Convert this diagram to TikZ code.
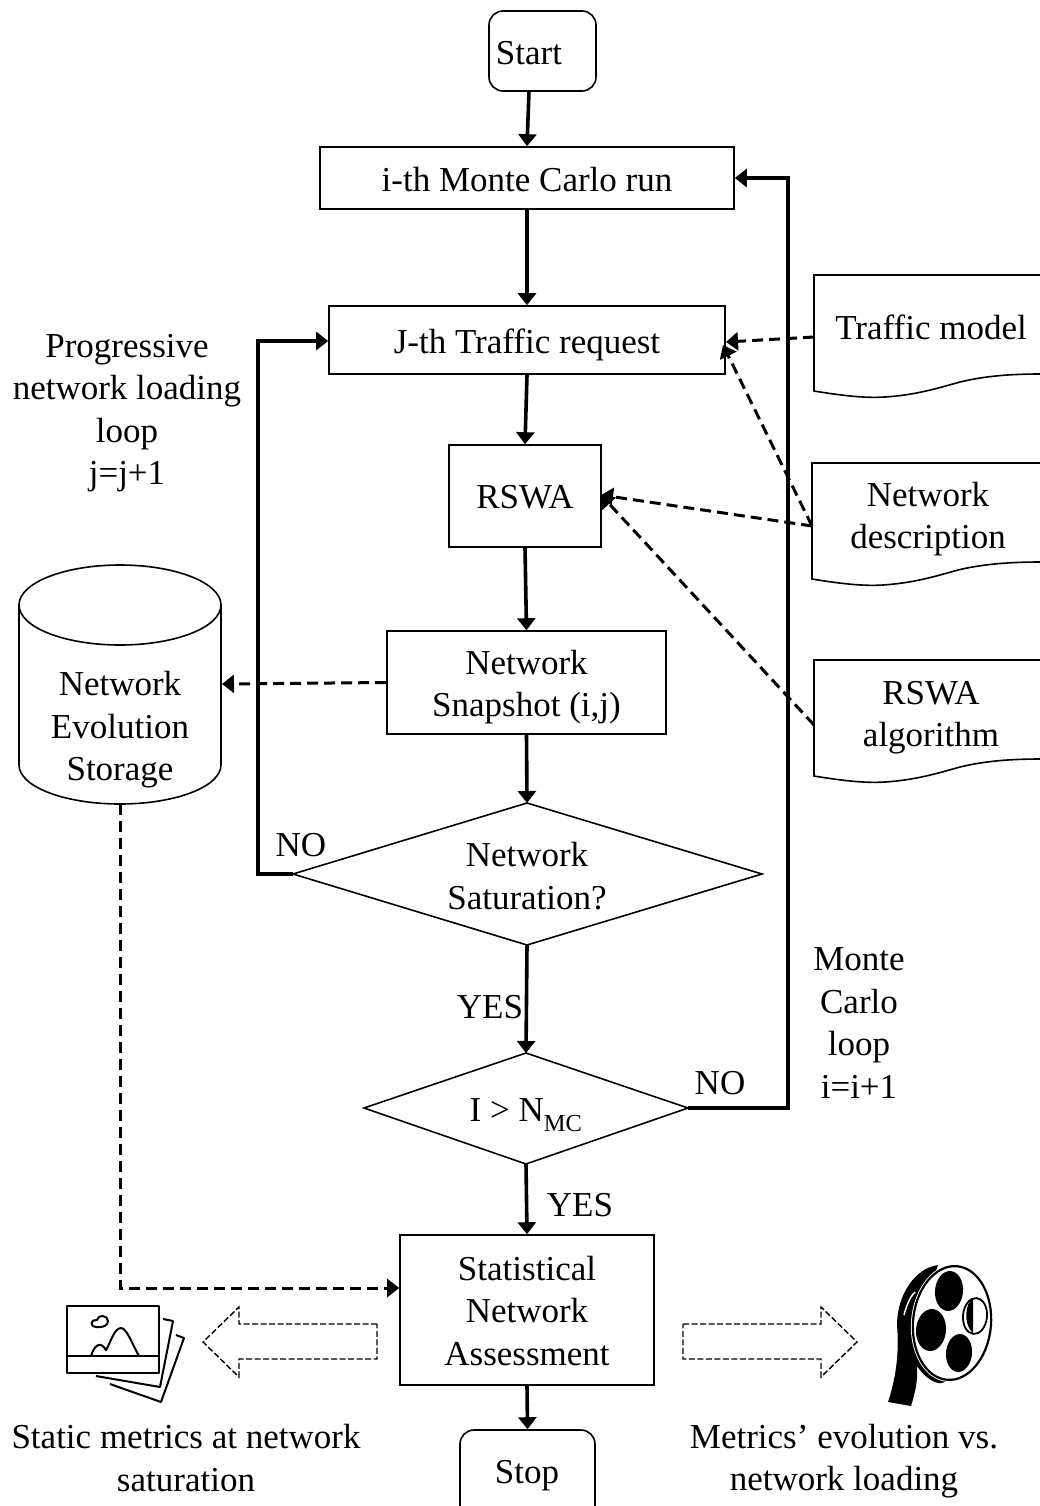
\documentclass[tikz,border=0pt]{standalone}
\usepackage{fontspec}
\setmainfont{Liberation Serif}
\usetikzlibrary{arrows.meta,shapes.geometric}
\tikzset{
 x=1pt,y=-1pt,
 every node/.style={font=\fontsize{35}{42.5}\selectfont,align=center,inner sep=0pt},
 boxn/.style={draw=black,line width=1.6pt,rectangle,minimum width=#1},
 rnd/.style={draw=black,line width=1.6pt,rectangle,rounded corners=14pt},
 flow/.style={line width=3.6pt,-{Triangle[length=12pt,width=18pt]}},
 dflow/.style={line width=3pt,dash pattern=on 11pt off 6pt,-{Triangle[length=12pt,width=18pt]}},
 doc/.style={draw=black,line width=1.6pt},
 block/.style={draw=black,line width=1.4pt,dash pattern=on 6pt off 2.5pt,fill=white},
 icon/.style={draw=black,line width=2pt,line join=round}
}
\begin{document}
\begin{tikzpicture}
\useasboundingbox (0,0) rectangle (1040,1506);
\fill[white] (0,0) rectangle (1040,1506);
% process nodes
\node[rnd,minimum width=107pt,minimum height=80pt] (start) at (542.5,51) {};
\node (starttxt) at (529,53) {Start};
\node[boxn=414pt,minimum height=62pt] (mc) at (527,178) {};
\node (mctxt) at (527,180) {i-th Monte Carlo run};
\node[boxn=396pt,minimum height=68pt] (req) at (527,340) {};
\node (reqtxt) at (527,345) {J-th Traffic request};
\node[boxn=152pt,minimum height=102pt] (rswa) at (525,496) {};
\node (rswatxt) at (525,497) {RSWA};
\node[boxn=279pt,minimum height=103pt] (snap) at (526.5,682.5) {};
\node (snaptxt) at (526.5,687) {Network\\Snapshot (i,j)};
\path[draw=black,line width=1.6pt] (293,874) coordinate (satw) -- (527,803) coordinate (satn) -- (762,874) -- (527,945) coordinate (sats) -- cycle;
\node (sattxt) at (527,876) {Network\\Saturation?};
\path[draw=black,line width=1.6pt] (364,1108) -- (526,1053) coordinate (mcdn) -- (688,1108) coordinate (mcde) -- (526,1164) coordinate (mcds) -- cycle;
\node (mcdtxt) at (526,1115) {I > N\textsubscript{\raisebox{-0.5ex}{MC}}};
\node[boxn=254pt,minimum height=150pt] (stat) at (527,1310) {};
\node (stattxt) at (527,1311) {Statistical\\Network\\Assessment};
\node[rnd,minimum width=135pt,minimum height=90pt] (stop) at (527.5,1475) {};
\node (stoptxt) at (527,1476) {Stop};
% documents
\draw[doc] (1041,275) -- (814,275) -- (814,391) .. controls (850,397) and (870,398) .. (885,397) .. controls (915,395) and (935,389) .. (960,382) .. controls (985,376) and (1010,374) .. (1041,374);
\node (tm) at (931,327) {Traffic model};
\draw[doc] (1041,463) -- (812,463) -- (812,579) .. controls (848,585) and (868,586) .. (883,585) .. controls (913,583) and (933,577) .. (958,570) .. controls (983,564) and (1010,562) .. (1041,562);
\node (nd) at (928,519) {Network\\description};
\draw[doc] (1041,660) -- (814,660) -- (814,776) .. controls (850,782) and (870,783) .. (885,782) .. controls (915,780) and (935,774) .. (960,767) .. controls (985,761) and (1010,759) .. (1041,759);
\node (ra) at (931,717.5) {RSWA\\algorithm};
\coordinate (tmp) at (814,337);
\coordinate (ndp) at (812,526);
\coordinate (rap) at (814,725);
% storage
\draw[doc,fill=white] (19,605) arc[start angle=180,end angle=0,x radius=101,y radius=40] arc[start angle=360,end angle=180,x radius=101,y radius=40] -- (19,765) arc[start angle=180,end angle=0,x radius=101,y radius=39] -- (221,605);
\coordinate (storeS) at (120,804);
\coordinate (storeE) at (222,684);
\node (storetxt) at (120,730) {Network\\Evolution\\Storage};
% solid connectors
\draw[flow] (529,91) -- (mc.north);
\draw[flow] (mc.south) -- (req.north);
\draw[flow] (req.south) -- (rswa.north);
\draw[flow] (rswa.south) -- (snap.north);
\draw[flow] (snap.south) -- (satn);
\draw[flow] (sats) -- (mcdn);
\draw[flow] (mcds) -- (stat.north);
\draw[flow] (stat.south) -- (stop.north);
\draw[flow] (satw) -- (258,874) -- (258,341) -- (req.west|-0,341);
\draw[flow] (mcde) -- (788,1108) -- (788,178) -- (mc.east);
% dashed connectors
\draw[dflow] (tmp) -- (726,342);
\draw[dflow] (ndp) -- (723,345);
\draw[dflow] (ndp) -- (601,495);
\draw[dflow] (rap) -- (601,495);
\draw[dflow] (snap.west) -- (storeE);
\draw[dflow] (storeS) -- (120,1288) -- (stat.west|-0,1288);
% labels
\node (no1) at (301,845) {NO};
\node (yes1) at (490,1007) {YES};
\node (no2) at (720,1083) {NO};
\node (yes2) at (580,1205) {YES};
\node (pl) at (127,413) {Progressive\\network loading\\loop\\j=j+1};
\node (ml) at (859,1023) {Monte\\Carlo\\ loop\\i=i+1};
\node (sm) at (186,1458) {Static metrics at network\\saturation};
\node (me) at (844,1461) {Metrics’ evolution vs.\\network loading};
% block arrows
\draw[block] (377,1324) -- (239,1324) -- (239,1307) -- (203,1342) -- (239,1377) -- (239,1359) -- (377,1359) -- cycle;
\draw[block] (683,1324) -- (821,1324) -- (821,1307) -- (857,1342) -- (821,1377) -- (821,1359) -- (683,1359) -- cycle;
% picture icon
\draw[icon] (67,1306) rectangle (159,1373);
\draw[icon] (67,1356) -- (159,1356);
\draw[icon] (91,1356) .. controls (94,1346) and (100,1340) .. (106,1350) .. controls (110,1344) and (114,1328) .. (121,1328) .. controls (127,1328) and (133,1346) .. (139,1356);
\draw[icon] (96,1327) .. controls (89,1326) and (91,1319) .. (97,1320) .. controls (98,1314) and (108,1315) .. (108,1321) .. controls (108,1325) and (104,1327) .. (100,1327) -- cycle;
\draw[icon] (163,1319) -- (173,1321) -- (160,1387) -- (96,1376);
\draw[icon] (176,1335) -- (184,1338) -- (161,1402) -- (110,1384);
% film reel
\fill[black] (938,1265) .. controls (915,1268) and (897,1295) .. (897,1325) .. controls (899,1350) and (897,1375) .. (888,1402) -- (911,1406) .. controls (916,1390) and (918,1378) .. (917,1366) .. controls (925,1378) and (935,1384) .. (942,1383) -- (960,1375) -- (930,1290) -- cycle;
\draw[line width=1.5pt,white] (904,1315) .. controls (908,1300) and (912,1295) .. (915,1292);
\fill[white,rotate around={-5:(952,1323)}] (952,1323) ellipse[x radius=41,y radius=59];
\draw[line width=2.2pt,rotate around={-5:(952,1323)}] (952,1323) ellipse[x radius=39,y radius=57];
\fill[black,rotate around={-5:(949,1291)}] (949,1291) ellipse[x radius=14,y radius=20];
\fill[black,rotate around={-5:(931,1330)}] (931,1330) ellipse[x radius=15,y radius=21];
\fill[black,rotate around={-5:(959,1353)}] (959,1353) ellipse[x radius=13,y radius=19];
\draw[line width=1.8pt,rotate around={-5:(975,1316)}] (975,1316) ellipse[x radius=12,y radius=18];
\fill[black] (973,1299) .. controls (965,1302) and (963,1325) .. (973,1333) -- cycle;
\end{tikzpicture}
\end{document}
